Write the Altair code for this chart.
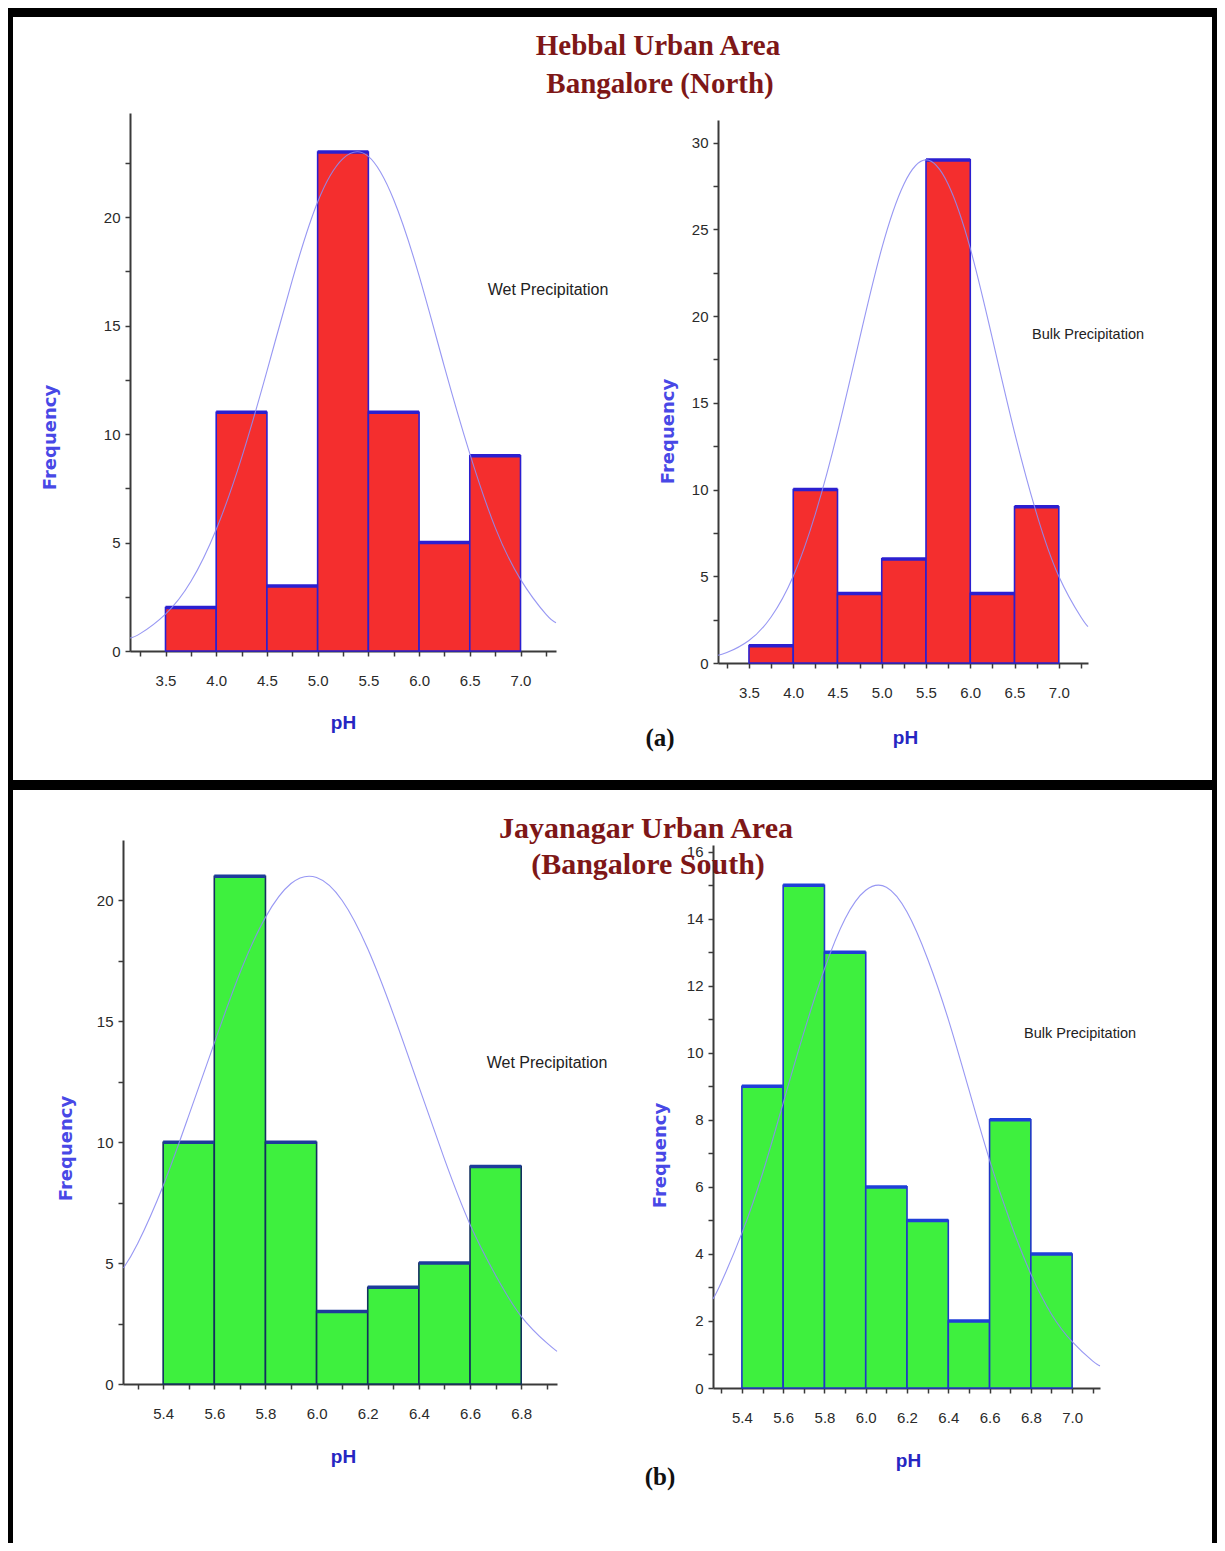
import altair as alt
import pandas as pd

# ---------------- data ----------------
# (a) Hebbal Urban Area - wet precipitation
hw_edges = [3.5, 4.0, 4.5, 5.0, 5.5, 6.0, 6.5, 7.0]
hw_counts = [2, 11, 3, 23, 11, 5, 9]
hw_curve_x = [3.15, 3.25, 3.5, 3.75, 4.0, 4.25, 4.5, 4.75, 5.0, 5.25, 5.5, 5.75, 6.0, 6.25, 6.5, 6.75, 7.0, 7.25, 7.35]
hw_curve_y = [0.6, 0.8, 1.7, 3.2, 5.6, 8.9, 12.9, 17.1, 20.7, 22.7, 22.8, 20.8, 17.3, 13.1, 9.1, 5.7, 3.3, 1.7, 1.3]

# (a) Hebbal Urban Area - bulk precipitation
hb_edges = [3.5, 4.0, 4.5, 5.0, 5.5, 6.0, 6.5, 7.0]
hb_counts = [1, 10, 4, 6, 29, 4, 9]
hb_curve_x = [3.15, 3.25, 3.5, 3.75, 4.0, 4.25, 4.5, 4.75, 5.0, 5.25, 5.5, 5.75, 6.0, 6.25, 6.5, 6.75, 7.0, 7.25, 7.33]
hb_curve_y = [0.45, 0.6, 1.3, 2.65, 5.0, 8.6, 13.3, 18.7, 23.9, 27.6, 29.0, 27.6, 23.9, 18.7, 13.3, 8.6, 5.0, 2.65, 2.1]

# (b) Jayanagar Urban Area - wet precipitation
jw_edges = [5.4, 5.6, 5.8, 6.0, 6.2, 6.4, 6.6, 6.8]
jw_counts = [10, 21, 10, 3, 4, 5, 9]
jw_curve_x = [5.245, 5.3, 5.4, 5.5, 5.6, 5.7, 5.8, 5.9, 6.0, 6.1, 6.2, 6.3, 6.4, 6.5, 6.6, 6.7, 6.8, 6.9, 6.94]
jw_curve_y = [4.8, 5.8, 8.2, 11.1, 14.1, 17.0, 19.3, 20.7, 20.95, 20.0, 18.0, 15.3, 12.3, 9.3, 6.6, 4.5, 2.8, 1.7, 1.35]

# (b) Jayanagar Urban Area - bulk precipitation
jb_edges = [5.4, 5.6, 5.8, 6.0, 6.2, 6.4, 6.6, 6.8, 7.0]
jb_counts = [9, 15, 13, 6, 5, 2, 8, 4]
jb_curve_x = [5.26, 5.3, 5.4, 5.5, 5.6, 5.7, 5.8, 5.9, 6.0, 6.1, 6.2, 6.3, 6.4, 6.5, 6.6, 6.7, 6.8, 6.9, 7.0, 7.1, 7.135]
jb_curve_y = [2.66, 3.15, 4.62, 6.4, 8.5, 10.6, 12.5, 14.0, 14.85, 14.94, 14.2, 12.8, 11.0, 8.9, 6.8, 4.96, 3.4, 2.2, 1.38, 0.8, 0.66]

# tick values
x_ticks_a = [3.25, 3.5, 3.75, 4.0, 4.25, 4.5, 4.75, 5.0, 5.25, 5.5, 5.75, 6.0, 6.25, 6.5, 6.75, 7.0, 7.25]
x_ticks_bw = [5.3, 5.4, 5.5, 5.6, 5.7, 5.8, 5.9, 6.0, 6.1, 6.2, 6.3, 6.4, 6.5, 6.6, 6.7, 6.8, 6.9]
x_ticks_bb = [5.3, 5.4, 5.5, 5.6, 5.7, 5.8, 5.9, 6.0, 6.1, 6.2, 6.3, 6.4, 6.5, 6.6, 6.7, 6.8, 6.9, 7.0, 7.1]
y_ticks_1 = [0, 2.5, 5, 7.5, 10, 12.5, 15, 17.5, 20, 22.5]
y_ticks_2 = [0, 2.5, 5, 7.5, 10, 12.5, 15, 17.5, 20, 22.5, 25, 27.5, 30]
y_ticks_3 = [0, 2.5, 5, 7.5, 10, 12.5, 15, 17.5, 20]
y_ticks_4 = [0, 1, 2, 3, 4, 5, 6, 7, 8, 9, 10, 11, 12, 13, 14, 15, 16]

TITLE_A = ["Hebbal Urban Area", "Bangalore (North)"]
TITLE_B = ["Jayanagar Urban Area", "(Bangalore South)"]
TAG_A, TAG_B = "(a)", "(b)"
WET, BULK = "Wet Precipitation", "Bulk Precipitation"

# ---------------- layout ----------------
W = 1199
HA = 763
HB = 753
ORIGIN_A = (13, 17)
ORIGIN_B = (13, 790)

NARROW = "Liberation Sans Narrow, Arial Narrow, Liberation Sans, sans-serif"
SERIF = "Liberation Serif, Times New Roman, serif"

LAB_HALF = "abs(datum.value*2 - round(datum.value*2)) < 0.001 ? format(datum.value, '.1f') : ''"
LAB_FIFTH = "abs(datum.value*5 - round(datum.value*5)) < 0.001 ? format(datum.value, '.1f') : ''"
LAB_Y5 = "datum.value % 5 == 0 ? datum.label : ''"
LAB_Y2 = "datum.value % 2 == 0 ? datum.label : ''"

RED = "#f42e2e"
GREEN = "#3ef03e"

cfg1 = dict(x_px=[130, 556], x_dom=[3.15, 7.35], y_px=[651, 113], y_dom=[0, 24.8],
            x_ticks=x_ticks_a, x_lab=LAB_HALF, y_ticks=y_ticks_1, y_lab=LAB_Y5,
            ph=(343, 722), freq=(50, 437), fill=RED, stroke="#2b1fd0", top="#2b1fd0")
cfg2 = dict(x_px=[718, 1088], x_dom=[3.15, 7.33], y_px=[663, 120], y_dom=[0, 31.3],
            x_ticks=x_ticks_a, x_lab=LAB_HALF, y_ticks=y_ticks_2, y_lab=LAB_Y5,
            ph=(905, 737), freq=(668, 431), fill=RED, stroke="#2b1fd0", top="#2b1fd0")
cfg3 = dict(x_px=[123, 557], x_dom=[5.243, 6.94], y_px=[1384, 840], y_dom=[0, 22.5],
            x_ticks=x_ticks_bw, x_lab=LAB_FIFTH, y_ticks=y_ticks_3, y_lab=LAB_Y5,
            ph=(343, 1456), freq=(66, 1148), fill=GREEN, stroke="#12305e", top="#1d3c9a")
cfg4 = dict(x_px=[713, 1100], x_dom=[5.26, 7.135], y_px=[1388, 845], y_dom=[0, 16.2],
            x_ticks=x_ticks_bb, x_lab=LAB_FIFTH, y_ticks=y_ticks_4, y_lab=LAB_Y2,
            ph=(908, 1460), freq=(660, 1155), fill=GREEN, stroke="#2036c8", top="#1f3fd8")


def make_hist(edges, counts, cx, cy, cfg, origin, H):
    ox, oy = origin
    xl, xr = cfg["x_px"][0] - ox, cfg["x_px"][1] - ox
    y0, yt = cfg["y_px"][0] - oy, cfg["y_px"][1] - oy
    bars = pd.DataFrame({"x0": edges[:-1], "x1": edges[1:], "count": counts})
    curve = pd.DataFrame({"cx": cx, "cy": cy})
    xs = alt.Scale(domain=cfg["x_dom"], range=[xl, xr], nice=False, zero=False)
    ys = alt.Scale(domain=cfg["y_dom"], range=[y0, yt], nice=False, zero=False)
    xaxis = alt.Axis(orient="bottom", offset=y0 - H, values=cfg["x_ticks"],
                     labelExpr=cfg["x_lab"], title="pH",
                     titleX=cfg["ph"][0] - ox, titleY=cfg["ph"][1] - cfg["y_px"][0],
                     titleAlign="center", titleBaseline="middle", titleAngle=0,
                     labelPadding=17, labelFlush=False, labelOverlap=False)
    yaxis = alt.Axis(orient="left", offset=-xl, values=cfg["y_ticks"],
                     labelExpr=cfg["y_lab"], title="Frequency",
                     titleX=cfg["freq"][0] - cfg["x_px"][0], titleY=cfg["freq"][1] - oy,
                     titleAlign="center", titleBaseline="middle", titleAngle=270,
                     labelPadding=5, labelFlush=False, labelOverlap=False)
    rect = alt.Chart(bars).mark_rect(fill=cfg["fill"], stroke=cfg["stroke"], strokeWidth=1.6).encode(
        x=alt.X("x0:Q", scale=xs, axis=xaxis),
        x2="x1:Q",
        y=alt.Y("count:Q", scale=ys, axis=yaxis),
        y2=alt.datum(0),
    )
    tops = alt.Chart(bars).mark_rule(color=cfg["top"], strokeWidth=3.5).encode(
        x=alt.X("x0:Q", scale=xs, axis=xaxis),
        x2="x1:Q",
        y=alt.Y("count:Q", scale=ys, axis=yaxis),
    )
    line = alt.Chart(curve).mark_line(color="#8c8cf2", strokeWidth=1.1, interpolate="natural", opacity=0.9).encode(
        x=alt.X("cx:Q", scale=xs, axis=xaxis),
        y=alt.Y("cy:Q", scale=ys, axis=yaxis),
    )
    return alt.layer(rect, tops, line)


def txt(s, pos, origin, **kw):
    return alt.Chart(pd.DataFrame({"t": [s]})).mark_text(align="center", baseline="middle", **kw).encode(
        text="t:N",
        x=alt.value(pos[0] - origin[0]),
        y=alt.value(pos[1] - origin[1]),
    )


p1 = make_hist(hw_edges, hw_counts, hw_curve_x, hw_curve_y, cfg1, ORIGIN_A, HA)
p2 = make_hist(hb_edges, hb_counts, hb_curve_x, hb_curve_y, cfg2, ORIGIN_A, HA)
p3 = make_hist(jw_edges, jw_counts, jw_curve_x, jw_curve_y, cfg3, ORIGIN_B, HB)
p4 = make_hist(jb_edges, jb_counts, jb_curve_x, jb_curve_y, cfg4, ORIGIN_B, HB)

title_kw_a = dict(font=SERIF, fontSize=29, fontWeight="bold", color="#7e1717")
title_kw_b = dict(font=SERIF, fontSize=30, fontWeight="bold", color="#7e1717")
tag_kw = dict(font=SERIF, fontSize=25, fontWeight="bold", color="#111111")

panel_a = alt.layer(
    p1, p2,
    txt(TITLE_A[0], (658, 46), ORIGIN_A, **title_kw_a),
    txt(TITLE_A[1], (660, 84), ORIGIN_A, **title_kw_a),
    txt(TAG_A, (660, 738), ORIGIN_A, **tag_kw),
    txt(WET, (548, 290), ORIGIN_A, font=NARROW, fontSize=16, color="#222222"),
    txt(BULK, (1088, 335), ORIGIN_A, font=NARROW, fontSize=14.5, color="#222222"),
).resolve_scale(x="independent", y="independent").properties(width=W, height=HA)

panel_b = alt.layer(
    p3, p4,
    txt(TITLE_B[0], (646, 829), ORIGIN_B, **title_kw_b),
    txt(TITLE_B[1], (648, 865), ORIGIN_B, **title_kw_b),
    txt(TAG_B, (660, 1477), ORIGIN_B, **tag_kw),
    txt(WET, (547, 1063), ORIGIN_B, font=NARROW, fontSize=16, color="#222222"),
    txt(BULK, (1080, 1034), ORIGIN_B, font=NARROW, fontSize=14.5, color="#222222"),
).resolve_scale(x="independent", y="independent").properties(width=W, height=HB)

chart = alt.vconcat(panel_a, panel_b, spacing=10).properties(
    padding={"left": 5, "top": 9, "right": 5, "bottom": 0},
    background="black",
).configure_view(
    fill="white", stroke="white", strokeWidth=0
).configure_axis(
    grid=False, domainColor="#3a3a3a", domainWidth=2, tickColor="#3a3a3a", tickWidth=1.5,
    tickSize=5, labelFont=NARROW, labelFontSize=15, labelColor="#2a2a2a",
).configure_axisX(
    titleFont=NARROW, titleFontSize=19, titleFontWeight="bold", titleColor="#2626c2",
).configure_axisY(
    titleFont="DejaVu Sans, Verdana, sans-serif", titleFontSize=18, titleFontWeight="bold", titleColor="#4848e6",
)

chart.save("out.html", embed_options={"renderer": "svg", "actions": False})
